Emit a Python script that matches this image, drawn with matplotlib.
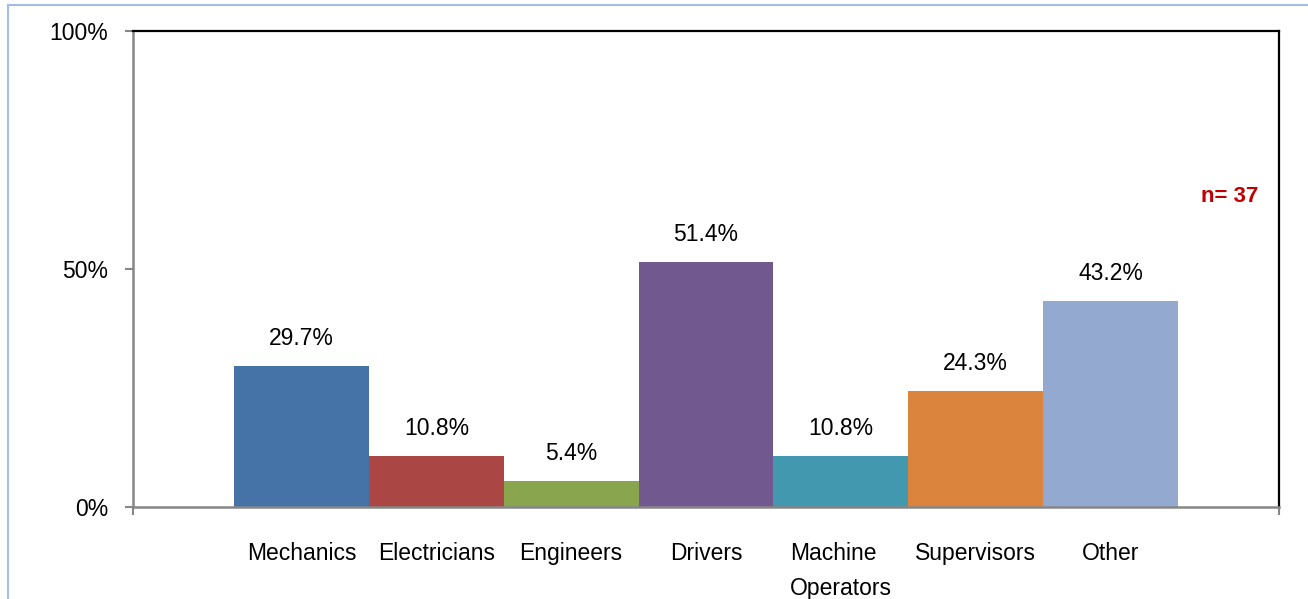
import matplotlib
matplotlib.use("Agg")
import matplotlib.pyplot as plt
from matplotlib.lines import Line2D
import numpy as np


categories = ["Mechanics", "Electricians", "Engineers", "Drivers",
              "Machine\nOperators", "Supervisors", "Other"]
shares = [29.7, 10.8, 5.4, 51.4, 10.8, 24.3, 43.2]
colors = ["#4572a7", "#aa4643", "#89a54e", "#71588f",
          "#4198af", "#db843d", "#93a9cf"]
y_ticks = [0, 50, 100]
y_labels = ["0%", "50%", "100%"]
sample_note = "n= 37"


def main():
    plt.rcParams["font.family"] = ["Liberation Sans", "DejaVu Sans"]
    fig = plt.figure(figsize=(13.08, 5.99), dpi=100)
    ax = fig.add_axes([133/1308, 1-507/599, (1279-133)/1308, (507-31)/599])

    x = np.arange(len(categories))
    ax.bar(x, shares, width=1.0, color=colors, zorder=2)
    for xi, v in zip(x, shares):
        ax.annotate(f"{v:.1f}%", (xi, v), xytext=(0, 11.5), textcoords="offset points",
                    ha="center", va="bottom", fontsize=16.5)

    ax.set_xlim(-1.25, 7.25)
    ax.set_ylim(0, 100)

    # category labels without tick marks, end ticks as minor ticks
    ax.set_xticks(x)
    ax.set_xticklabels(categories, fontsize=16.5, linespacing=1.7,
                       multialignment="left")
    ax.tick_params(axis="x", which="major", length=0, pad=25)
    ax.set_xticks([-1.25, 7.25], minor=True)
    ax.tick_params(axis="x", which="minor", length=6, width=1.5,
                   color="#868686", direction="out")

    ax.set_yticks(y_ticks)
    ax.set_yticklabels(y_labels, fontsize=16.5)
    ax.tick_params(axis="y", length=6, width=1.5, color="#868686",
                   direction="out", pad=12)

    for side in ("left", "bottom"):
        ax.spines[side].set_color("#868686")
        ax.spines[side].set_linewidth(1.8)
    for side in ("top", "right"):
        ax.spines[side].set_color("black")
        ax.spines[side].set_linewidth(1.6)
    ax.spines["bottom"].set_zorder(3)

    ax.text(1230/1308, 1-197/599, sample_note, transform=fig.transFigure,
            ha="center", va="center", fontsize=16, fontweight="bold",
            color="#c00000")

    # light frame around the chart area
    border = "#a4bde6"
    fig.add_artist(Line2D([8/1308, 1.0], [1-5/599, 1-5/599],
                          transform=fig.transFigure, color=border, lw=1.5))
    fig.add_artist(Line2D([8/1308, 8/1308], [0, 1-5/599],
                          transform=fig.transFigure, color=border, lw=1.5))

    fig.savefig("out.png", dpi=100)
    plt.close(fig)


if __name__ == "__main__":
    main()
